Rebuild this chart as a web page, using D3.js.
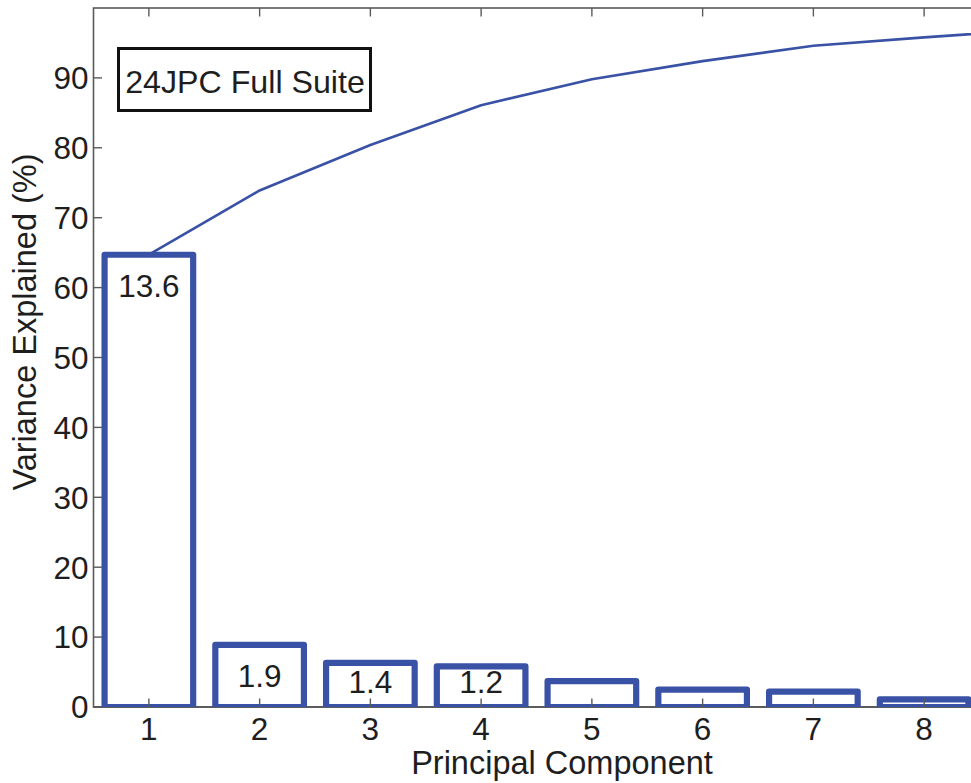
<!DOCTYPE html>
<html>
<head>
<meta charset="utf-8">
<script src="https://cdn.jsdelivr.net/npm/d3@7"></script>
<style>
  html, body { margin: 0; padding: 0; background: #fff; }
  svg { display: block; font-family: "Liberation Sans", Arial, Helvetica, sans-serif; }
</style>
</head>
<body>
<svg id="chart" width="971" height="783"></svg>
<script>
// Principal components shown as bars
const components = [1, 2, 3, 4, 5, 6, 7, 8];
// Variance explained by each component (%)
const varianceExplained = [64.7, 8.9, 6.3, 5.8, 3.7, 2.5, 2.2, 1.1];
// Eigenvalue labels written inside the first four bars
const eigenLabels = ["13.6", "1.9", "1.4", "1.2"];
// Cumulative variance explained (%), one point per component (the ninth runs past the axes)
const cumulativeComponents = [1, 2, 3, 4, 5, 6, 7, 8, 9];
const cumulativeVariance = [64.7, 73.9, 80.4, 86.1, 89.8, 92.4, 94.6, 95.8, 96.9];
// Axis ticks
const yTicks = [0, 10, 20, 30, 40, 50, 60, 70, 80, 90];
const xTicks = components;
const legendText = "24JPC Full Suite";

const blue = "#3a52a5";
const axisGray = "#5a5a5a";
const textColor = "#1e1e1e";

const svg = d3.select("#chart");

const x = d3.scaleLinear().domain([0.5, 8.5]).range([93.5, 979.5]);
const y = d3.scaleLinear().domain([0, 100]).range([707, 8]);

const [x0, x1] = x.range();
const [yb, yt] = y.range();

// clip region = axes box
svg.append("defs").append("clipPath").attr("id", "plotClip")
  .append("rect")
  .attr("x", x0).attr("y", yt)
  .attr("width", x1 - x0).attr("height", yb - yt);

// axes box
svg.append("rect")
  .attr("x", x0).attr("y", yt)
  .attr("width", x1 - x0).attr("height", yb - yt)
  .attr("fill", "none")
  .attr("stroke", axisGray)
  .attr("stroke-width", 1.6);

// bars
const barHalf = 0.4;
svg.append("g").attr("clip-path", "url(#plotClip)")
  .selectAll("rect")
  .data(varianceExplained)
  .join("rect")
  .attr("x", (d, i) => x(components[i] - barHalf))
  .attr("width", (d, i) => x(components[i] + barHalf) - x(components[i] - barHalf))
  .attr("y", d => y(d))
  .attr("height", d => y(0) - y(d))
  .attr("fill", "#fff")
  .attr("stroke", blue)
  .attr("stroke-width", 6.2)
  .attr("stroke-linejoin", "round");

// inward ticks on all four sides
const tickLen = 8.5;
const ticks = svg.append("g")
  .attr("stroke", axisGray)
  .attr("stroke-width", 1.4);

ticks.selectAll(".ytl").data(yTicks).join("line")
  .attr("x1", x0).attr("x2", x0 + tickLen)
  .attr("y1", d => y(d)).attr("y2", d => y(d));
ticks.selectAll(".ytr").data(yTicks).join("line")
  .attr("x1", x1).attr("x2", x1 - tickLen)
  .attr("y1", d => y(d)).attr("y2", d => y(d));
ticks.selectAll(".xtb").data(xTicks).join("line")
  .attr("x1", d => x(d)).attr("x2", d => x(d))
  .attr("y1", yb).attr("y2", yb - tickLen);
ticks.selectAll(".xtt").data(xTicks).join("line")
  .attr("x1", d => x(d)).attr("x2", d => x(d))
  .attr("y1", yt).attr("y2", yt + tickLen);

// bottom axis line, beneath the bar outlines
svg.append("line")
  .attr("x1", x0).attr("x2", x1)
  .attr("y1", yb).attr("y2", yb)
  .attr("stroke", "#333")
  .attr("stroke-width", 1.6)
  .lower();

// cumulative variance line
const line = d3.line()
  .x((d, i) => x(cumulativeComponents[i]))
  .y(d => y(d));
svg.append("path")
  .attr("clip-path", "url(#plotClip)")
  .datum(cumulativeVariance)
  .attr("d", line)
  .attr("fill", "none")
  .attr("stroke", blue)
  .attr("stroke-width", 2.6)
  .attr("stroke-linejoin", "round");

// eigenvalue labels inside the bars
svg.append("g")
  .selectAll("text")
  .data(eigenLabels)
  .join("text")
  .attr("x", (d, i) => x(components[i]))
  .attr("y", (d, i) => Math.min(y(varianceExplained[i]) + 42, y(0) - 14))
  .attr("text-anchor", "middle")
  .attr("font-size", 31.5)
  .attr("fill", textColor)
  .text(d => d);

// y tick labels
svg.append("g")
  .selectAll("text")
  .data(yTicks)
  .join("text")
  .attr("x", x0 - 5)
  .attr("y", d => y(d))
  .attr("dy", "0.36em")
  .attr("text-anchor", "end")
  .attr("font-size", 31.5)
  .attr("fill", textColor)
  .text(d => d);

// x tick labels
svg.append("g")
  .selectAll("text")
  .data(xTicks)
  .join("text")
  .attr("x", d => x(d))
  .attr("y", 740)
  .attr("text-anchor", "middle")
  .attr("font-size", 31.5)
  .attr("fill", textColor)
  .text(d => d);

// axis titles
svg.append("text")
  .attr("x", 562)
  .attr("y", 774)
  .attr("text-anchor", "middle")
  .attr("font-size", 32.5)
  .attr("fill", textColor)
  .text("Principal Component");

svg.append("text")
  .attr("transform", "translate(36,322) rotate(-90)")
  .attr("text-anchor", "middle")
  .attr("font-size", 32.5)
  .attr("fill", textColor)
  .text("Variance Explained (%)");

// legend box
const legend = svg.append("g");
legend.append("rect")
  .attr("x", 118.5).attr("y", 48.5)
  .attr("width", 252).attr("height", 62)
  .attr("fill", "#fff")
  .attr("stroke", "#111")
  .attr("stroke-width", 3);
legend.append("text")
  .attr("x", 245)
  .attr("y", 92.5)
  .attr("text-anchor", "middle")
  .attr("font-size", 32.2)
  .attr("fill", textColor)
  .text(legendText);
</script>
</body>
</html>
